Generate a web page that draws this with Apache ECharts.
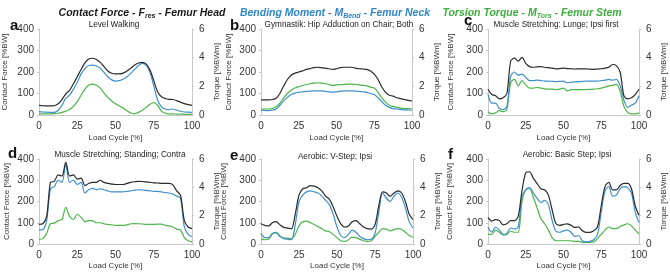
<!DOCTYPE html>
<html>
<head>
<meta charset="utf-8">
<script src="https://cdn.jsdelivr.net/npm/echarts@6/dist/echarts.min.js"></script>
<style>
	html, body { margin: 0; padding: 0; background: #fff; }
	#chart { width: 670px; height: 272px; }
</style>
</head>
<body>
<div id="chart"></div>
<script>
// load cycle, % (shared by all panels)
const loadCycle = [0, 2.5, 5, 7.5, 10, 12.5, 15, 17.5, 20, 22.5, 25, 27.5, 30, 32.5, 35, 37.5, 40, 42.5, 45, 47.5, 50,
	52.5, 55, 57.5, 60, 62.5, 65, 67.5, 70, 72.5, 75, 77.5, 80, 82.5, 85, 87.5, 90, 92.5, 95, 97.5, 100]
const xTicks = [0, 25, 50, 75, 100]
const forceTicks = [0, 100, 200, 300, 400]
const torqueTicks = [0, 2, 4, 6]

const panelLetters = ["a", "b", "c", "d", "e", "f"]
const panelTitles = ["Level Walking", "Gymnastik: Hip Adduction on Chair; Both", "Muscle Stretching: Lunge; Ipsi first",
	"Muscle Stretching; Standing; Contra", "Aerobic: V-Step; Ipsi", "Aerobic: Basic Step; Ipsi"]

// a - level walking
const walkForce = [45, 43, 42, 42, 43, 52, 72, 98, 115, 145, 178, 212, 242, 260, 264, 258, 245, 225, 205, 194, 191,
	191, 195, 205, 218, 232, 242, 245, 238, 210, 160, 108, 85, 77, 73, 72, 67, 60, 53, 48, 45]
const walkBend = [0.23, 0.21, 0.2, 0.18, 0.18, 0.33, 0.68, 1.17, 1.38, 1.8, 2.28, 2.85, 3.23, 3.45, 3.48, 3.42, 3.27, 2.97, 2.67, 2.45, 2.37,
	2.4, 2.49, 2.67, 2.9, 3.18, 3.45, 3.6, 3.48, 3.0, 2.03, 1.05, 0.57, 0.42, 0.38, 0.42, 0.33, 0.26, 0.21, 0.2, 0.18]
const walkTors = [0.08, 0.08, 0.08, 0.08, 0.09, 0.12, 0.18, 0.27, 0.39, 0.6, 0.93, 1.38, 1.8, 2.07, 2.15, 2.07, 1.88, 1.53, 1.23, 0.98, 0.78,
	0.63, 0.48, 0.3, 0.14, 0.09, 0.18, 0.33, 0.53, 0.75, 0.86, 0.68, 0.27, 0.12, 0.08, 0.08, 0.06, 0.06, 0.05, 0.05, 0.05]

// b - hip adduction on chair
const adductForce = [70, 70, 70, 72, 78, 100, 135, 165, 185, 195, 200, 205, 212, 216, 220, 222, 220, 218, 215, 212, 215,
	220, 222, 222, 222, 218, 215, 214, 212, 205, 190, 165, 130, 105, 92, 88, 80, 76, 72, 68, 65]
const adductBend = [0.33, 0.32, 0.3, 0.33, 0.42, 0.68, 0.98, 1.23, 1.43, 1.53, 1.58, 1.62, 1.65, 1.67, 1.68, 1.68, 1.68, 1.65, 1.62, 1.59, 1.62,
	1.65, 1.68, 1.68, 1.68, 1.67, 1.65, 1.62, 1.58, 1.5, 1.43, 1.2, 0.93, 0.68, 0.53, 0.45, 0.42, 0.39, 0.36, 0.35, 0.33]
const adductTors = [0.42, 0.42, 0.42, 0.45, 0.57, 0.83, 1.2, 1.5, 1.73, 1.88, 1.98, 2.06, 2.13, 2.18, 2.22, 2.25, 2.22, 2.18, 2.13, 2.07, 2.1,
	2.12, 2.13, 2.15, 2.15, 2.13, 2.1, 2.07, 2.03, 1.95, 1.88, 1.58, 1.2, 0.9, 0.68, 0.6, 0.53, 0.48, 0.45, 0.44, 0.42]

// c - lunge
const lungeForce = [120, 95, 90, 75, 80, 100, 250, 265, 250, 268, 240, 225, 222, 224, 225, 222, 220, 218, 215, 216, 218,
	216, 215, 214, 215, 215, 215, 213, 212, 214, 215, 218, 222, 235, 230, 200, 90, 75, 80, 95, 120]
const lungeBend = [1.43, 0.83, 0.83, 0.45, 0.38, 0.6, 2.7, 3.0, 2.78, 2.85, 2.63, 2.4, 2.4, 2.43, 2.4, 2.37, 2.37, 2.34, 2.33, 2.34, 2.37,
	2.25, 2.28, 2.31, 2.33, 2.34, 2.37, 2.36, 2.37, 2.37, 2.4, 2.43, 2.48, 2.43, 2.48, 2.03, 1.05, 0.53, 0.68, 0.83, 1.35]
const lungeTors = [0.23, 0.08, 0.15, 0.3, 0.23, 0.38, 2.25, 2.48, 2.03, 2.4, 2.1, 1.88, 1.88, 1.92, 1.88, 1.83, 1.8, 1.8, 1.77, 1.8, 1.88,
	1.68, 1.77, 1.77, 1.77, 1.77, 1.77, 1.79, 1.8, 1.83, 1.88, 1.95, 2.03, 2.07, 2.13, 1.65, 0.6, 0.18, 0.08, 0.08, 0.15]

// d - standing stretch
const standForce = [92, 95, 130, 290, 295, 325, 320, 385, 320, 325, 305, 310, 275, 285, 290, 290, 300, 290, 285, 282, 280,
	280, 280, 285, 290, 293, 295, 294, 292, 290, 288, 287, 285, 285, 285, 278, 250, 230, 110, 80, 72]
const standBend = [0.98, 1.02, 1.65, 3.9, 4.05, 4.5, 4.35, 5.63, 4.35, 4.5, 4.2, 4.35, 3.6, 3.83, 3.93, 3.83, 3.9, 3.83, 3.75, 3.68, 3.68,
	3.68, 3.68, 3.72, 3.75, 3.8, 3.83, 3.81, 3.78, 3.75, 3.72, 3.71, 3.68, 3.63, 3.6, 3.53, 3.38, 3.23, 1.2, 0.68, 0.53]
const standTors = [0.33, 0.38, 0.75, 1.43, 1.47, 1.65, 1.73, 2.58, 1.95, 1.73, 2.1, 1.88, 1.58, 1.65, 1.65, 1.5, 1.5, 1.43, 1.38, 1.35, 1.32,
	1.31, 1.32, 1.35, 1.43, 1.44, 1.43, 1.41, 1.38, 1.38, 1.38, 1.4, 1.4, 1.32, 1.28, 1.2, 1.05, 0.98, 0.45, 0.23, 0.15]

// e - v-step
const vstepForce = [95, 88, 85, 100, 105, 90, 78, 75, 72, 140, 230, 260, 265, 275, 272, 265, 250, 225, 210, 175, 130,
	95, 80, 85, 105, 110, 95, 80, 72, 70, 90, 180, 245, 240, 225, 240, 250, 240, 200, 140, 115]
const vstepBend = [0.75, 0.45, 0.45, 0.75, 0.83, 0.57, 0.38, 0.33, 0.3, 1.35, 3.0, 3.45, 3.68, 3.75, 3.68, 3.6, 3.38, 3.08, 2.78, 2.1, 1.2,
	0.6, 0.45, 0.68, 0.98, 0.83, 0.53, 0.38, 0.3, 0.33, 0.75, 2.25, 3.6, 3.23, 3.0, 3.38, 3.6, 3.3, 2.55, 1.58, 1.13]
const vstepTors = [0.38, 0.3, 0.33, 0.72, 0.78, 0.53, 0.42, 0.42, 0.38, 0.68, 1.28, 1.58, 1.62, 1.5, 1.38, 1.23, 1.08, 0.93, 0.87, 0.68, 0.45,
	0.23, 0.18, 0.3, 0.48, 0.45, 0.33, 0.23, 0.18, 0.23, 0.53, 0.83, 1.08, 1.05, 0.93, 1.02, 1.08, 1.02, 0.83, 0.6, 0.48]

// f - basic step
const bstepForce = [125, 108, 115, 110, 90, 95, 110, 110, 130, 250, 335, 340, 310, 285, 260, 255, 230, 160, 95, 88, 92,
	95, 88, 78, 80, 62, 55, 55, 62, 80, 180, 270, 290, 255, 255, 275, 285, 285, 260, 180, 135]
const bstepBend = [1.2, 0.83, 1.2, 0.98, 0.68, 0.75, 1.13, 1.05, 1.2, 3.3, 3.83, 3.98, 3.6, 3.23, 2.93, 3.08, 2.78, 1.65, 0.9, 0.83, 0.93,
	0.98, 0.83, 0.53, 0.6, 0.23, 0.15, 0.18, 0.3, 0.68, 2.25, 3.75, 4.05, 3.38, 3.45, 3.9, 4.05, 3.98, 3.6, 2.25, 1.5]
const bstepTors = [0.68, 0.68, 0.98, 0.83, 0.63, 0.68, 0.9, 0.83, 0.83, 3.0, 3.83, 3.9, 3.3, 2.55, 1.8, 1.43, 0.98, 0.45, 0.23, 0.23, 0.23,
	0.23, 0.23, 0.18, 0.18, 0.12, 0.12, 0.12, 0.15, 0.38, 0.68, 0.98, 1.2, 1.08, 1.08, 1.23, 1.35, 1.43, 1.28, 0.98, 0.72]

const forceData = [walkForce, adductForce, lungeForce, standForce, vstepForce, bstepForce]
const bendData = [walkBend, adductBend, lungeBend, standBend, vstepBend, bstepBend]
const torsData = [walkTors, adductTors, lungeTors, standTors, vstepTors, bstepTors]

const cBlack = "#2b2b2b"
const cBlue = "#3f8fcb"
const cGreen = "#4db54a"
const axisGray = "#c8c8c8"
const font = "Liberation Sans"

// plot boxes, px
const boxes = [
	{ left: 37, top: 29, width: 155, height: 86, nameL: 30 },
	{ left: 261, top: 29, width: 151, height: 86, nameL: 28 },
	{ left: 488, top: 29, width: 151, height: 86, nameL: 33 },
	{ left: 39, top: 159, width: 153, height: 85, nameL: 28 },
	{ left: 261, top: 159, width: 152, height: 85, nameL: 33 },
	{ left: 488, top: 159, width: 151, height: 85, nameL: 34 }
]
const letterPos = [[5, 22], [225, 22], [459, 17], [3, 150], [225, 152], [443, 151]]
const subPos = [[109, 21], [334, 21], [551, 21], [115, 151], [330, 153], [562, 151]]

const pairs = (ys) => loadCycle.map((x, i) => [x, ys[i]])

const grid = [], xAxis = [], yAxis = [], series = [], title = []

boxes.forEach((b, i) => {
	grid.push({ left: b.left, top: b.top, width: b.width, height: b.height })
	xAxis.push({
		gridIndex: i, type: "value", min: 0, max: 100, interval: 25,
		name: "Load Cycle [%]", nameLocation: "middle", nameGap: i < 3 ? 19 : 18,
		nameTextStyle: { fontFamily: font, fontSize: 8, color: "#333" },
		axisLine: { show: true, lineStyle: { color: axisGray } },
		axisTick: { show: false },
		splitLine: { show: false },
		axisLabel: { fontFamily: font, fontSize: 10, color: "#333", margin: 6,
			formatter: (v) => xTicks.indexOf(v) >= 0 ? String(v) : "" }
	})
	yAxis.push({
		gridIndex: i, type: "value", min: 0, max: 400, interval: 100, position: "left",
		name: "Contact Force [%BW]", nameLocation: "middle", nameGap: b.nameL,
		nameTextStyle: { fontFamily: font, fontSize: 8, color: "#333" },
		axisLine: { show: true, lineStyle: { color: axisGray } },
		axisTick: { show: true, length: 2, lineStyle: { color: axisGray } },
		splitLine: { show: false },
		axisLabel: { fontFamily: font, fontSize: 10, color: "#333", margin: 5,
			formatter: (v) => forceTicks.indexOf(v) >= 0 ? String(v) : "" }
	})
	yAxis.push({
		gridIndex: i, type: "value", min: 0, max: 6, interval: 2, position: "right",
		name: "Torque [%BWm]", nameLocation: "middle", nameGap: 21, nameRotate: 90,
		nameTextStyle: { fontFamily: font, fontSize: 8, color: "#333" },
		axisLine: { show: true, lineStyle: { color: axisGray } },
		axisTick: { show: true, length: 2, lineStyle: { color: axisGray } },
		splitLine: { show: false },
		axisLabel: { fontFamily: font, fontSize: 10, color: "#333", margin: 7,
			formatter: (v) => torqueTicks.indexOf(v) >= 0 ? String(v) : "" }
	})
	const line = (data, yIdx, color) => ({
		type: "line", xAxisIndex: i, yAxisIndex: yIdx, data: pairs(data),
		smooth: 0.3, symbol: "none", silent: true,
		lineStyle: { color: color, width: 1.2 }
	})
	series.push(line(torsData[i], 2 * i + 1, cGreen))
	series.push(line(bendData[i], 2 * i + 1, cBlue))
	series.push(line(forceData[i], 2 * i, cBlack))

	title.push({
		text: panelLetters[i], left: letterPos[i][0], top: letterPos[i][1] - 9,
		textStyle: { fontFamily: font, fontSize: 15, fontWeight: "bold", color: "#111" }
	})
	title.push({
		text: panelTitles[i], left: subPos[i][0], top: subPos[i][1] - 5, textAlign: "center",
		textStyle: { fontFamily: font, fontSize: 8.2, fontWeight: "normal", color: "#222" }
	})
})

// header row
const headers = [
	{ x: 137, main: "Contact Force - F", sub: "res", rest: " - Femur Head", color: "#1a1a1a" },
	{ x: 330, main: "Bending Moment - M", sub: "Bend", rest: " - Femur Neck", color: "#2f86c8" },
	{ x: 527, main: "Torsion Torque - M", sub: "Tors", rest: " - Femur Stem", color: "#3cae3c" }
]
headers.forEach((h) => {
	title.push({
		text: "{m|" + h.main + "}{s|" + h.sub + "}{m|" + h.rest + "}",
		left: h.x, top: 1, textAlign: "center",
		textStyle: {
			rich: {
				m: { fontFamily: font, fontSize: 10.5, fontStyle: "italic", color: h.color, lineHeight: 14 },
				s: { fontFamily: font, fontSize: 7, fontStyle: "italic", color: h.color, lineHeight: 8, verticalAlign: "bottom" }
			}
		}
	})
})

const myChart = echarts.init(document.getElementById("chart"), null, { renderer: "canvas" })
myChart.setOption({
	animation: false,
	backgroundColor: "#fff",
	title: title,
	grid: grid,
	xAxis: xAxis,
	yAxis: yAxis,
	series: series
})
</script>
</body>
</html>
